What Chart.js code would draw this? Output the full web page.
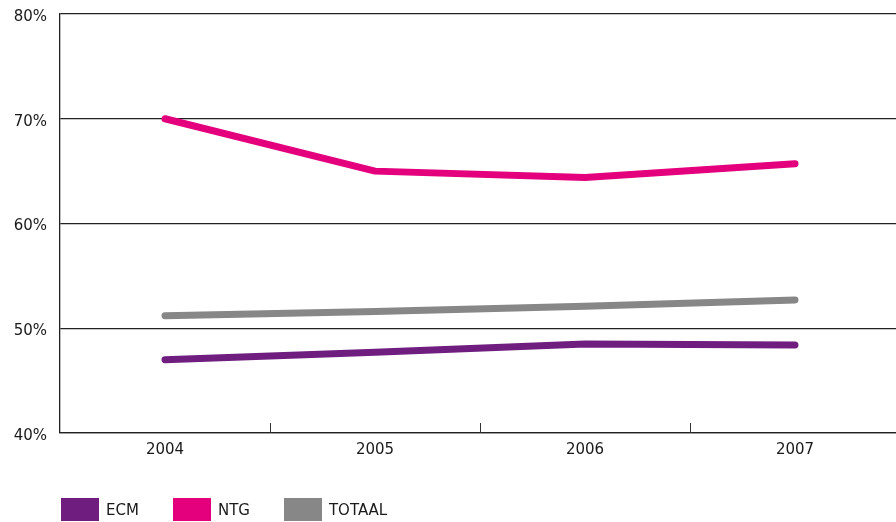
<!DOCTYPE html>
<html>
<head>
<meta charset="utf-8">
<script src="https://cdn.jsdelivr.net/npm/chart.js@4"></script>
<style>
  html, body { margin: 0; padding: 0; background: #fff; overflow: hidden; }
  #wrap { position: relative; width: 900px; height: 522px; }
  #legend { position: absolute; left: 61px; top: 498px; display: flex; font-family: "DejaVu Sans", sans-serif; font-size: 15px; color: #1a1a1a; }
  .item { display: flex; align-items: center; margin-right: 34px; }
  .box { width: 38px; height: 23px; margin-right: 7px; }
</style>
</head>
<body>
<div id="wrap">
  <canvas id="chart" width="900" height="522"></canvas>
  <div id="legend"></div>
</div>
<script>
const years = ['2004', '2005', '2006', '2007'];
const ecm = [47.0, 47.7, 48.5, 48.4];
const ntg = [70.0, 65.0, 64.4, 65.7];
const totaal = [51.2, 51.6, 52.1, 52.7];
const seriesNames = ['ECM', 'NTG', 'TOTAAL'];
const seriesColors = ['#6f1e80', '#e4007c', '#878787'];
const yTicks = [40, 50, 60, 70, 80];

// short tick marks between the years, standing up from the x axis
const catTicks = {
    id: 'catTicks',
    afterDraw(chart) {
        let x = chart.scales.x, c = chart.ctx;
        c.save();
        c.strokeStyle = '#333';
        c.lineWidth = 1;
        for (let i = 0; i < years.length - 1; i++) {
            let px = Math.round((x.getPixelForValue(i) + x.getPixelForValue(i + 1)) / 2) + 0.5;
            c.beginPath();
            c.moveTo(px, x.top);
            c.lineTo(px, x.top - 10);
            c.stroke();
        }
        c.restore();
    }
};

const lineStyle = {
    borderWidth: 7,
    borderCapStyle: 'round',
    borderJoinStyle: 'round',
    pointRadius: 0,
    tension: 0,
    fill: false
};

new Chart(document.getElementById('chart').getContext('2d'), {
    type: 'line',
    data: {
        labels: years,
        datasets: [ecm, ntg, totaal].map((d, i) => Object.assign({
            label: seriesNames[i],
            data: d,
            borderColor: seriesColors[i],
            backgroundColor: seriesColors[i]
        }, lineStyle))
    },
    options: {
        responsive: false,
        animation: false,
        layout: { padding: { top: 14, right: 0, left: 0, bottom: 0 } },
        plugins: { legend: { display: false }, tooltip: { enabled: false } },
        scales: {
            x: {
                offset: true,
                grid: { display: false, drawTicks: false },
                border: { display: true, color: '#222', width: 1.3 },
                ticks: { color: '#1a1a1a', padding: 8, font: { family: 'DejaVu Sans', size: 15 } },
                afterFit(s) { s.height = 89; s.paddingLeft = 0; s.paddingRight = 0; }
            },
            y: {
                min: 40,
                max: 80,
                afterBuildTicks(s) { s.ticks = yTicks.map(v => ({ value: v })); },
                grid: { color: '#222', lineWidth: 1.3, drawTicks: false },
                border: { display: true, color: '#222', width: 1.3 },
                ticks: {
                    color: '#1a1a1a',
                    padding: 13,
                    labelOffset: 3,
                    font: { family: 'DejaVu Sans', size: 15 },
                    callback: v => v + '%'
                },
                afterFit(s) { s.width = 60; s.paddingTop = 0; s.paddingBottom = 0; }
            }
        }
    },
    plugins: [catTicks]
});

let legend = document.getElementById('legend');
seriesNames.forEach((name, i) => {
    let item = document.createElement('div');
    item.className = 'item';
    item.innerHTML = '<div class="box" style="background:' + seriesColors[i] + '"></div><span>' + name + '</span>';
    legend.appendChild(item);
});
</script>
</body>
</html>
